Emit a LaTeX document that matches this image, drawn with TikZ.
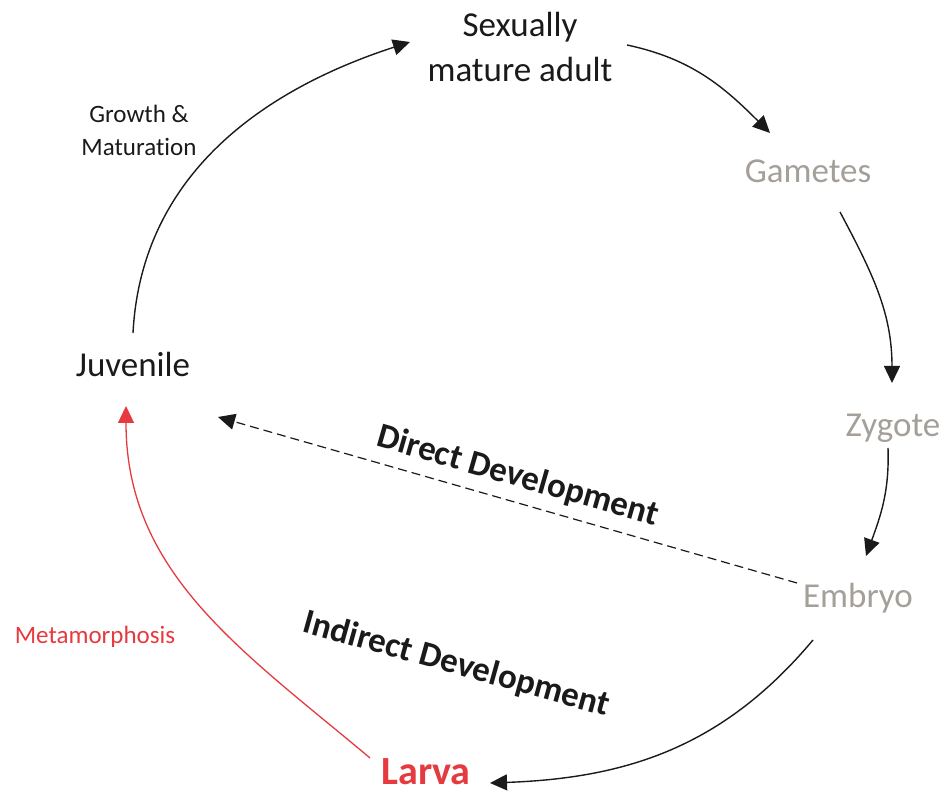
\documentclass[tikz,border=0pt]{standalone}
\usepackage{fontspec}
\setmainfont{Carlito}[RawFeature=-liga]
\usetikzlibrary{arrows.meta,calc}
\definecolor{txtblack}{HTML}{1A1A1A}
\definecolor{txtgrey}{HTML}{A59F99}
\definecolor{lifered}{HTML}{E53A3F}
\begin{document}
\begin{tikzpicture}[x=1pt,y=1pt,
  bigtxt/.style={inner sep=0pt,font=\fontsize{35}{45}\selectfont,text=txtblack},
  greytxt/.style={bigtxt,text=txtgrey},
  smalltxt/.style={inner sep=0pt,font=\fontsize{25}{33}\selectfont,text=txtblack,align=center},
  boldtxt/.style={inner sep=0pt,font=\fontsize{35}{45}\selectfont\bfseries,text=txtblack},
  cyc/.style={line width=1.4pt,draw=txtblack,-{Triangle[length=17pt,width=16pt]}},
  redcyc/.style={line width=1.3pt,draw=lifered,-{Triangle[length=17pt,width=16pt]}},
  dashcyc/.style={line width=1.2pt,draw=txtblack,dash pattern=on 9pt off 5pt,-{Triangle[length=17pt,width=16pt]}}]
\useasboundingbox (0,0) rectangle (948,794);
% nodes
\node[bigtxt,align=center] (adult) at (520,747.5) {Sexually\\mature adult};
\node[greytxt,anchor=base] (gam) at (808,611) {Gametes};
\node[greytxt,anchor=base] (zyg) at (893,357) {Zygote};
\node[greytxt,anchor=base] (emb) at (858,186) {Embryo};
\node[inner sep=0pt,anchor=base,font=\fontsize{40}{48}\selectfont\bfseries,text=lifered] (larva) at (426,9) {Larva};
\node[bigtxt,anchor=base] (juv) at (133,417) {Juvenile};
\node[smalltxt] (grow) at (139,664) {Growth \&\\Maturation};
\node[smalltxt,anchor=base,text=lifered] (meta) at (95,150) {Metamorphosis};
\node[boldtxt,anchor=base,rotate=-16] (direct) at (515,308) {Direct Development};
\node[boldtxt,anchor=base,rotate=-15.5] (indirect) at (454,120) {Indirect Development};
% connectors
\draw[cyc] ($(juv.base)+(0,44)$) to[out=87,in=198] ($(adult.center)+(-110,4.5)$);
\draw[cyc] ($(adult.center)+(107,1.5)$) to[out=-12,in=135] ($(gam.base)+(-38,50)$);
\draw[cyc] ($(gam.base)+(32,-29)$) to[out=-62,in=90] ($(zyg.base)+(-1,54)$);
\draw[cyc] ($(zyg.base)+(-5,-11)$) to[out=-88,in=70] ($(emb.base)+(8,52)$);
\draw[cyc] ($(emb.base)+(-45,-32)$) to[out=-130,in=2] ($(larva.base)+(64,2)$);
\draw[redcyc] ($(larva.base)+(-56,27)$) to[out=140,in=-90] ($(juv.base)+(-7,-29)$);
\draw[dashcyc] ($(emb.base)+(-61,25)$) -- ($(juv.base)+(85,-40)$);
\end{tikzpicture}
\end{document}
